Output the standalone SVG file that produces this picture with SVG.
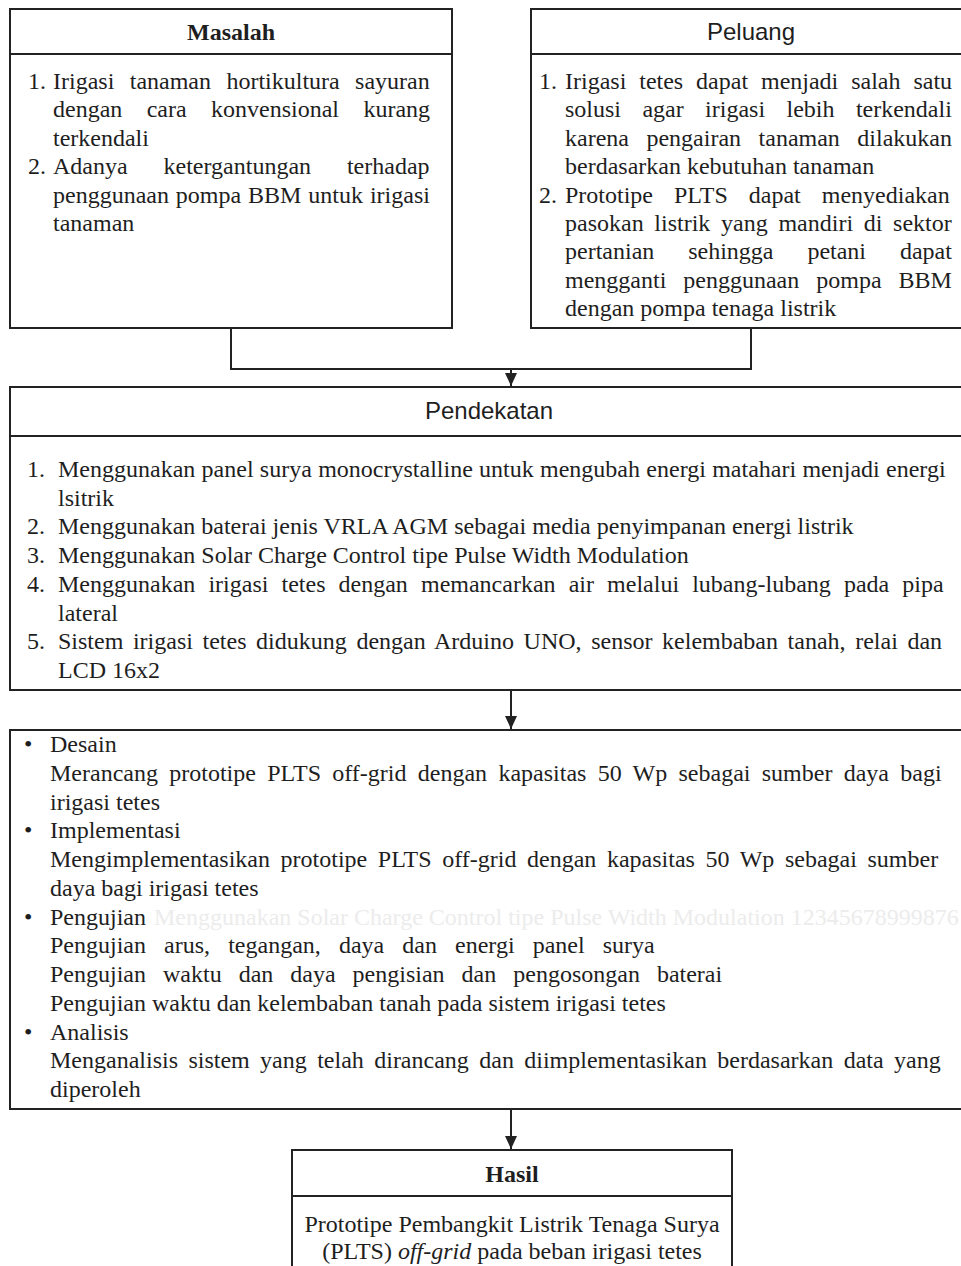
<svg xmlns="http://www.w3.org/2000/svg" width="961" height="1266" viewBox="0 0 961 1266">
<style>
.box{fill:#fff;stroke:#222;stroke-width:2}
.ln{fill:none;stroke:#222;stroke-width:2}
.t{font-family:"Liberation Serif","Times New Roman",serif;font-size:24px;fill:#1e1e1e}
.tb{font-family:"Liberation Serif","Times New Roman",serif;font-size:24px;font-weight:bold;fill:#1e1e1e}
.s{font-family:"Liberation Sans",Arial,sans-serif;font-size:24px;fill:#1e1e1e}
.c{text-anchor:middle}
.faint{fill:#ececec}
</style>
<defs>
<marker id="ah" markerUnits="userSpaceOnUse" markerWidth="13" markerHeight="12" refX="13" refY="6" orient="auto" viewBox="0 0 13 12">
<path d="M0,0 L13,6 L0,12 Z" fill="#222"/>
</marker>
</defs>

<g id="connectors">
<polyline class="ln" points="231,328 231,369 751,369 751,328"/>
<line class="ln" x1="511" y1="369" x2="511" y2="386" marker-end="url(#ah)"/>
<line class="ln" x1="511" y1="690" x2="511" y2="729" marker-end="url(#ah)"/>
<line class="ln" x1="511" y1="1109" x2="511" y2="1149" marker-end="url(#ah)"/>
</g>

<g id="masalah">
<rect class="box" x="10" y="9" width="442" height="319"/>
<line class="ln" x1="10" y1="54" x2="452" y2="54"/>
<text class="tb c" x="231" y="40">Masalah</text>
<text class="t" x="28" y="89">1.</text>
<text class="t" x="53" y="89" word-spacing="9.4">Irigasi tanaman hortikultura sayuran</text>
<text class="t" x="53" y="117.4" word-spacing="18.4">dengan cara konvensional kurang</text>
<text class="t" x="53" y="145.8">terkendali</text>
<text class="t" x="28" y="174.2">2.</text>
<text class="t" x="53" y="174.2" word-spacing="29.9">Adanya ketergantungan terhadap</text>
<text class="t" x="53" y="202.6" word-spacing="0.9">penggunaan pompa BBM untuk irigasi</text>
<text class="t" x="53" y="231">tanaman</text>
</g>

<g id="peluang">
<rect class="box" x="531" y="9" width="432" height="319"/>
<line class="ln" x1="531" y1="54" x2="963" y2="54"/>
<text class="s c" x="751" y="40">Peluang</text>
<text class="t" x="539" y="89">1.</text>
<text class="t" x="565" y="89" word-spacing="6.9">Irigasi tetes dapat menjadi salah satu</text>
<text class="t" x="565" y="117.4" word-spacing="15.4">solusi agar irigasi lebih terkendali</text>
<text class="t" x="565" y="145.8" word-spacing="11.5">karena pengairan tanaman dilakukan</text>
<text class="t" x="565" y="174.2">berdasarkan kebutuhan tanaman</text>
<text class="t" x="539" y="202.6">2.</text>
<text class="t" x="565" y="202.6" word-spacing="15">Prototipe PLTS dapat menyediakan</text>
<text class="t" x="565" y="231" word-spacing="4.7">pasokan listrik yang mandiri di sektor</text>
<text class="t" x="565" y="259.4" word-spacing="27.9">pertanian sehingga petani dapat</text>
<text class="t" x="565" y="287.8" word-spacing="11">mengganti penggunaan pompa BBM</text>
<text class="t" x="565" y="316.2">dengan pompa tenaga listrik</text>
</g>

<g id="pendekatan">
<rect class="box" x="10" y="387" width="953" height="303"/>
<line class="ln" x1="10" y1="436" x2="963" y2="436"/>
<text class="s c" x="489" y="419">Pendekatan</text>
<text class="t" x="27" y="477">1.</text>
<text class="t" x="58" y="477" word-spacing="0.3">Menggunakan panel surya monocrystalline untuk mengubah energi matahari menjadi energi</text>
<text class="t" x="58" y="505.7">lsitrik</text>
<text class="t" x="27" y="534.4">2.</text>
<text class="t" x="58" y="534.4">Menggunakan baterai jenis VRLA AGM sebagai media penyimpanan energi listrik</text>
<text class="t" x="27" y="563.1">3.</text>
<text class="t" x="58" y="563.1">Menggunakan Solar Charge Control tipe Pulse Width Modulation</text>
<text class="t" x="27" y="591.8">4.</text>
<text class="t" x="58" y="591.8" word-spacing="7.1">Menggunakan irigasi tetes dengan memancarkan air melalui lubang-lubang pada pipa</text>
<text class="t" x="58" y="620.5">lateral</text>
<text class="t" x="27" y="649.2">5.</text>
<text class="t" x="58" y="649.2" word-spacing="3.6">Sistem irigasi tetes didukung dengan Arduino UNO, sensor kelembaban tanah, relai dan</text>
<text class="t" x="58" y="677.9">LCD 16x2</text>
</g>

<g id="tahapan">
<rect class="box" x="10" y="730" width="953" height="379"/>
<text class="t" x="24" y="752">•</text>
<text class="t" x="50" y="752">Desain</text>
<text class="t" x="50" y="780.75" word-spacing="5.3">Merancang prototipe PLTS off-grid dengan kapasitas 50 Wp sebagai sumber daya bagi</text>
<text class="t" x="50" y="809.5">irigasi tetes</text>
<text class="t" x="24" y="838.25">•</text>
<text class="t" x="50" y="838.25">Implementasi</text>
<text class="t" x="50" y="867" word-spacing="4.6">Mengimplementasikan prototipe PLTS off-grid dengan kapasitas 50 Wp sebagai sumber</text>
<text class="t" x="50" y="895.75">daya bagi irigasi tetes</text>
<text class="t" x="24" y="924.5">•</text>
<text class="t" x="50" y="924.5">Pengujian</text>
<text class="t faint" x="154" y="924.5">Menggunakan Solar Charge Control tipe Pulse Width Modulation 12345678999876</text>
<text class="t" x="50" y="953.25" word-spacing="12.1">Pengujian arus, tegangan, daya dan energi panel surya</text>
<text class="t" x="50" y="982" word-spacing="11">Pengujian waktu dan daya pengisian dan pengosongan baterai</text>
<text class="t" x="50" y="1010.75">Pengujian waktu dan kelembaban tanah pada sistem irigasi tetes</text>
<text class="t" x="24" y="1039.5">•</text>
<text class="t" x="50" y="1039.5">Analisis</text>
<text class="t" x="50" y="1068.25" word-spacing="4.4">Menganalisis sistem yang telah dirancang dan diimplementasikan berdasarkan data yang</text>
<text class="t" x="50" y="1097">diperoleh</text>
</g>

<g id="hasil">
<rect class="box" x="292" y="1150" width="440" height="140"/>
<line class="ln" x1="292" y1="1196" x2="732" y2="1196"/>
<text class="tb c" x="512" y="1182">Hasil</text>
<text class="t c" x="512" y="1232">Prototipe Pembangkit Listrik Tenaga Surya</text>
<text class="t c" x="512" y="1259">(PLTS) <tspan font-style="italic">off-grid</tspan> pada beban irigasi tetes</text>
</g>
</svg>
